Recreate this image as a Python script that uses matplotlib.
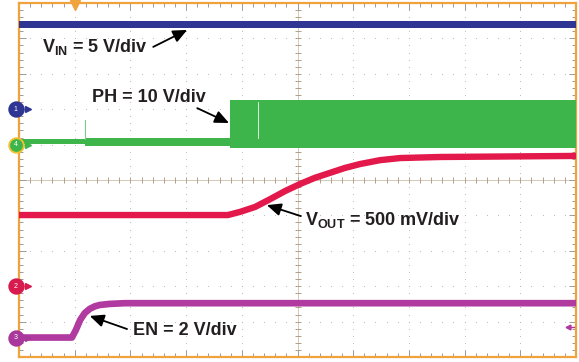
import numpy as np
import matplotlib.pyplot as plt

plt.rcParams['font.family'] = ['Liberation Sans', 'DejaVu Sans']

# -----------------------------
# Traces (time in div, level in div)
# -----------------------------
vin_t = [0, 10]
vin_lo = [9.28, 9.28]
vin_hi = [9.49, 9.49]

ph_t = [0, 1.18, 1.18, 3.79, 3.79, 10]
ph_lo = [6.01, 6.01, 5.96, 5.96, 5.90, 5.90]
ph_hi = [6.16, 6.16, 6.19, 6.19, 7.26, 7.26]
ph_spike_t = 1.18
ph_spike_top = 6.69
ph_gap_t = 4.29

vout_t = [0, 3.75, 3.97, 4.24, 4.51, 4.78, 5.05, 5.31, 5.58, 5.85, 6.12, 6.48, 6.84, 7.56, 10]
vout_v = [4.01, 4.01, 4.10, 4.24, 4.46, 4.69, 4.89, 5.06, 5.20, 5.34, 5.45, 5.56, 5.62, 5.65, 5.68]

en_t = [0, 0.95, 1.02, 1.10, 1.18, 1.27, 1.36, 1.45, 1.63, 1.90, 10]
en_v = [0.55, 0.55, 0.76, 1.05, 1.24, 1.36, 1.43, 1.47, 1.50, 1.52, 1.52]

# channel ground markers: label, level, colour, edge
ch_labels = ['1', '4', '2', '3']
ch_levels = [7.0, 6.0, 2.0, 0.55]
ch_colors = ['#2e3592', '#3db54a', '#d81b4f', '#a8389b']
ch_edges = ['#2e3592', '#f2c12e', '#d81b4f', '#a8389b']

# annotations: text, text pos, arrow tail, arrow head
labels = ['V$_\\mathregular{IN}$ = 5 V/div', 'PH = 10 V/div',
          'V$_\\mathregular{OUT}$ = 500 mV/div', 'EN = 2 V/div']
label_pos = [(0.41, 8.62), (1.31, 7.20), (5.13, 3.73), (2.05, 0.62)]
arrow_tail = [(2.41, 8.76), (3.20, 7.03), (5.06, 3.98), (1.94, 0.79)]
arrow_head = [(3.02, 9.24), (3.77, 6.61), (4.45, 4.29), (1.27, 1.16)]

blue = '#2e3592'
green = '#3db54a'
red = '#e3194b'
magenta = '#b03a9f'
orange = '#f0a23c'

fig = plt.figure(figsize=(5.79, 3.62), dpi=100)
ax = fig.add_axes([19 / 579, 5 / 362, 557 / 579, 354 / 362])
ax.set_xlim(0, 10)
ax.set_ylim(0, 10)

# border + ticks
for s in ax.spines.values():
    s.set_color(orange)
    s.set_linewidth(1.6)
ax.set_xticks(np.arange(0, 11, 1))
ax.set_yticks(np.arange(0, 11, 1))
ax.set_xticks(np.arange(0, 10.01, 0.2), minor=True)
ax.set_yticks(np.arange(0, 10.01, 0.2), minor=True)
ax.tick_params(which='both', direction='in', top=True, right=True,
               labelbottom=False, labelleft=False, color='#9a9a9a', width=0.7)
ax.tick_params(which='major', length=5)
ax.tick_params(which='minor', length=3)

# dotted grid
minor = np.arange(0.2, 10, 0.2)
for g in range(1, 10):
    if g != 5:
        ax.scatter(np.full_like(minor, g), minor, s=0.6, color='#b5b5b5', lw=0, zorder=1)
        ax.scatter(minor, np.full_like(minor, g), s=0.6, color='#b5b5b5', lw=0, zorder=1)

# centre lines with ticks
ax.axhline(5, color='#cfc2ad', lw=0.6, zorder=1)
ax.axvline(5, color='#cfc2ad', lw=0.6, zorder=1)
ax.plot(minor, np.full_like(minor, 5), ls='none', marker='|', ms=5, mew=0.7,
        color='#b0a088', zorder=1)
ax.plot(np.full_like(minor, 5), minor, ls='none', marker='_', ms=5, mew=0.7,
        color='#b0a088', zorder=1)

# traces
ax.fill_between(vin_t, vin_lo, vin_hi, color=blue, lw=0, zorder=3)
ax.fill_between(ph_t, ph_lo, ph_hi, color=green, lw=0, zorder=3)
ax.plot([ph_spike_t, ph_spike_t], [ph_hi[0], ph_spike_top], color='#7ccc84', lw=0.8, zorder=3)
ax.plot([ph_gap_t, ph_gap_t], [6.2, ph_hi[-1] - 0.05], color='#d8f0da', lw=0.7, zorder=3)
ax.plot(vout_t, vout_v, color=red, lw=4.6, solid_capstyle='butt', zorder=4)
ax.plot(en_t, en_v, color=magenta, lw=4.8, solid_capstyle='butt', zorder=4)

# channel markers on the left edge
for lab, lev, col, ec in zip(ch_labels, ch_levels, ch_colors, ch_edges):
    ax.plot(-0.06, lev, marker='o', ms=10.5, color=col, mec=ec, mew=1.3,
            clip_on=False, zorder=6)
    ax.plot(0.16, lev, marker='>', ms=4, color=col, clip_on=False, zorder=6)
    ax.text(-0.06, lev, lab, color='white', fontsize=5, ha='center',
            va='center', clip_on=False, zorder=7)

# trigger marker and right-side marker
ax.plot(1.0, 9.93, marker='v', ms=7, color=orange, clip_on=False, zorder=6)
ax.plot([9.86, 9.97], [0.85, 0.85], color=magenta, lw=1, zorder=6)
ax.plot(9.86, 0.85, marker='<', ms=3.5, color=magenta, zorder=6)

# labels with arrows
for txt, pos, tail, head in zip(labels, label_pos, arrow_tail, arrow_head):
    ax.text(pos[0], pos[1], txt, fontsize=13, fontweight='bold',
            ha='left', va='baseline', color='#231f20', zorder=8)
    ax.annotate('', xy=head, xytext=tail,
                arrowprops=dict(arrowstyle='-|>,head_length=0.85,head_width=0.38',
                                color='black', lw=1.3, shrinkA=0, shrinkB=0),
                zorder=8)

fig.savefig('out.png', dpi=100)
